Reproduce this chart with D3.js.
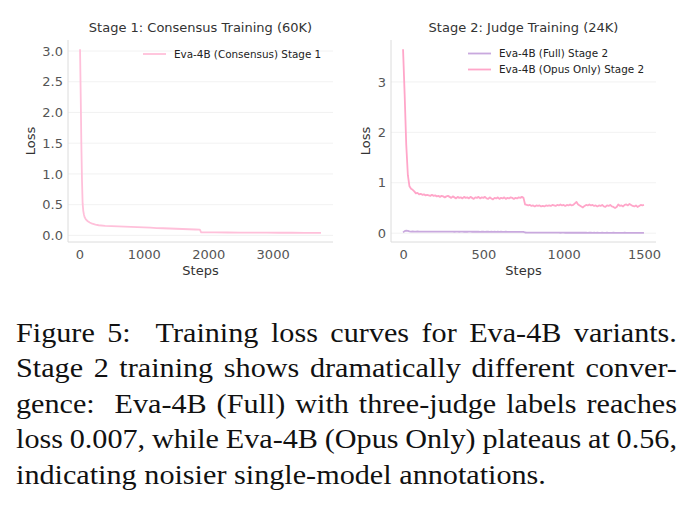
<!DOCTYPE html>
<html><head><meta charset="utf-8">
<script src="https://cdn.jsdelivr.net/npm/d3@7"></script>
<style>body{margin:0;background:#fff} svg{display:block}</style>
</head><body>
<svg id="c" width="691" height="508"></svg>
<script>
// ---------- data ----------
const stage1Steps = [10,20,30,40,50,60,70,80,100,130,160,200,250,300,400,500,600,700,800,900,1000,1100,1200,1300,1400,1500,1600,1700,1800,1870,1890,1950,2100,2300,2500,2700,2900,3100,3300,3500,3750];
const stage1Loss = [3.03,2.3,1.5,0.9,0.52,0.4,0.34,0.3,0.26,0.23,0.21,0.19,0.175,0.165,0.155,0.15,0.147,0.142,0.138,0.135,0.13,0.125,0.12,0.116,0.112,0.108,0.104,0.1,0.096,0.093,0.05,0.049,0.048,0.047,0.046,0.045,0.044,0.043,0.043,0.042,0.042];

const stage2LogEvery = 10;
const stage2Steps = d3.range(0, 1501, stage2LogEvery);
const opusLoss = [
 3.65,2.75,1.75,1.15,0.93,0.88,0.86,0.83,0.79,0.80,
 0.77,0.78,0.76,0.77,0.75,0.76,0.75,0.74,0.76,0.74,
 0.75,0.73,0.74,0.72,0.74,0.73,0.71,0.73,0.74,0.72,
 0.70,0.73,0.71,0.69,0.72,0.70,0.71,0.69,0.72,0.70,
 0.71,0.69,0.72,0.70,0.68,0.71,0.70,0.72,0.69,0.71,
 0.70,0.72,0.69,0.68,0.71,0.69,0.67,0.70,0.69,0.71,
 0.68,0.70,0.69,0.71,0.68,0.70,0.69,0.71,0.70,0.68,
 0.70,0.69,0.71,0.70,0.72,0.70,
 0.57,0.56,0.55,0.56,0.54,0.55,0.53,0.55,0.54,0.55,
 0.53,0.54,0.53,0.55,0.54,0.55,0.54,0.56,0.55,0.54,
 0.56,0.55,0.57,0.55,0.56,0.54,0.56,0.55,0.57,0.55,
 0.56,0.59,0.62,0.57,0.55,0.53,0.51,0.54,0.56,0.55,
 0.57,0.55,0.56,0.54,0.55,0.53,0.55,0.54,0.56,0.53,
 0.52,0.55,0.54,0.56,0.53,0.52,0.50,0.52,0.57,0.54,
 0.55,0.53,0.56,0.57,0.55,0.58,0.56,0.54,0.53,0.55,
 0.52,0.54,0.56,0.55,0.56];
const fullLoss = [
 0.015,0.04,0.05,0.045,0.035,0.03,0.035,0.032,0.03,0.033,
 0.031,0.030,0.032,0.029,0.030,0.031,0.029,0.030,0.031,0.030,
 0.029,0.030,0.031,0.029,0.030,0.029,0.030,0.031,0.029,0.030,
 0.029,0.030,0.028,0.029,0.030,0.028,0.029,0.030,0.028,0.029,
 0.028,0.029,0.030,0.028,0.029,0.028,0.029,0.028,0.027,0.029,
 0.028,0.027,0.028,0.029,0.027,0.028,0.027,0.028,0.027,0.028,
 0.027,0.028,0.026,0.027,0.028,0.026,0.027,0.026,0.027,0.026,
 0.027,0.026,0.027,0.026,0.025,0.024,
 0.013,0.012,0.011,0.011,0.010,0.011,0.010,0.010,0.011,0.010,
 0.010,0.009,0.010,0.010,0.009,0.010,0.009,0.009,0.010,0.009,
 0.009,0.009,0.008,0.009,0.009,0.008,0.009,0.008,0.009,0.008,
 0.008,0.009,0.008,0.008,0.008,0.009,0.008,0.008,0.008,0.007,
 0.008,0.008,0.007,0.008,0.007,0.008,0.007,0.007,0.008,0.007,
 0.007,0.008,0.007,0.007,0.007,0.008,0.007,0.007,0.007,0.007,
 0.007,0.007,0.008,0.007,0.007,0.007,0.007,0.007,0.007,0.007,
 0.007,0.007,0.007,0.007,0.007];

const xTicks1 = [0,1000,2000,3000];
const yTicks1 = [0,0.5,1.0,1.5,2.0,2.5,3.0];
const xTicks2 = [0,500,1000,1500];
const yTicks2 = [0,1,2,3];

const panelTitles = ["Stage 1: Consensus Training (60K)", "Stage 2: Judge Training (24K)"];
const seriesNames = ["Eva-4B (Consensus) Stage 1", "Eva-4B (Full) Stage 2", "Eva-4B (Opus Only) Stage 2"];
const xLabel = "Steps", yLabel = "Loss";
const captionLines = [
 "Figure 5:  Training loss curves for Eva-4B variants.",
 "Stage 2 training shows dramatically different conver-",
 "gence:  Eva-4B (Full) with three-judge labels reaches",
 "loss 0.007, while Eva-4B (Opus Only) plateaus at 0.56,",
 "indicating noisier single-model annotations."
];

// ---------- drawing ----------
const svg = d3.select("#c");
const FONT = "DejaVu Sans, sans-serif";
const SERIF = "'Liberation Serif', 'Times New Roman', Times, serif";

function margined(ext){ const r = ext[1]-ext[0]; return [ext[0]-0.05*r, ext[1]+0.05*r]; }

function panel(opt){
  const {left, top, width, height} = opt;
  const allX = opt.series.flatMap(s=>s.x), allY = opt.series.flatMap(s=>s.y);
  const x = d3.scaleLinear().domain(margined(d3.extent(allX))).range([left, left+width]);
  const y = d3.scaleLinear().domain(margined(d3.extent(allY))).range([top+height, top]);
  const g = svg.append("g");
  g.append("g").selectAll("line").data(opt.yTicks).join("line")
    .attr("x1", left).attr("x2", left+width)
    .attr("y1", d=>y(d)).attr("y2", d=>y(d))
    .attr("stroke", "#efefef").attr("stroke-width", 0.8);
  g.append("line").attr("x1", left).attr("x2", left).attr("y1", top).attr("y2", top+height)
    .attr("stroke", "#dcdcdc").attr("stroke-width", 1);
  g.append("line").attr("x1", left).attr("x2", left+width).attr("y1", top+height).attr("y2", top+height)
    .attr("stroke", "#dcdcdc").attr("stroke-width", 1);
  const xa = g.append("g").attr("transform", `translate(0,${top+height})`)
    .call(d3.axisBottom(x).tickValues(opt.xTicks).tickSize(0).tickPadding(8).tickFormat(d3.format("d")));
  const ya = g.append("g").attr("transform", `translate(${left},0)`)
    .call(d3.axisLeft(y).tickValues(opt.yTicks).tickSize(0).tickPadding(5).tickFormat(opt.yFormat));
  [xa, ya].forEach(a=>{
    a.select(".domain").remove();
    a.selectAll("text").attr("font-family", FONT).attr("font-size", 13).attr("fill", "#555");
  });
  opt.series.forEach(s=>{
    const pts = s.x.map((v,i)=>[v, s.y[i]]);
    g.append("path").datum(pts)
      .attr("d", d3.line().x(d=>x(d[0])).y(d=>y(d[1])))
      .attr("fill", "none").attr("stroke", s.color).attr("stroke-width", 1.8)
      .attr("stroke-linejoin", "round");
  });
  g.append("text").attr("x", left+width/2).attr("y", 32).attr("text-anchor", "middle")
    .attr("font-family", FONT).attr("font-size", 13).attr("fill", "#333").text(opt.title);
  g.append("text").attr("x", left+width/2).attr("y", 275).attr("text-anchor", "middle")
    .attr("font-family", FONT).attr("font-size", 13).attr("fill", "#333").text(xLabel);
  g.append("text").attr("transform", `translate(${opt.ylabelX},${top+height/2}) rotate(-90)`)
    .attr("text-anchor", "middle").attr("font-family", FONT).attr("font-size", 13).attr("fill", "#333").text(yLabel);
  opt.series.forEach((s,i)=>{
    const ly = opt.legendY + i*16;
    g.append("line").attr("x1", opt.legendX).attr("x2", opt.legendX+23).attr("y1", ly).attr("y2", ly)
      .attr("stroke", s.color).attr("stroke-width", 1.8);
    g.append("text").attr("x", opt.legendX+31).attr("y", ly).attr("dy", "0.35em")
      .attr("font-family", FONT).attr("font-size", 10.4).attr("fill", "#222").text(s.name);
  });
}

panel({left:68, top:40, width:265, height:202, title: panelTitles[0],
  xTicks: xTicks1, yTicks: yTicks1, yFormat: d3.format(".1f"), ylabelX: 35,
  legendX: 143, legendY: 54,
  series: [{x: stage1Steps, y: stage1Loss, color: "#ffc0da", name: seriesNames[0]}]});

panel({left:391, top:40, width:265, height:202, title: panelTitles[1],
  xTicks: xTicks2, yTicks: yTicks2, yFormat: d3.format("d"), ylabelX: 370,
  legendX: 468, legendY: 53.5,
  series: [{x: stage2Steps, y: fullLoss, color: "#c9a9de", name: seriesNames[1]},
           {x: stage2Steps, y: opusLoss, color: "#ffa6c9", name: seriesNames[2]}]});

// ---------- caption ----------
const capFS = 27, capLeft = 16, capRight = 677, lastLineWidth = 530;
const baselines = [341.7, 377.3, 412.7, 448.3, 483.6];
const cap = svg.append("g");
function mk(parent, w){ return parent.append("text").style("font-family", SERIF).attr("font-size", capFS).text(w); }
function measure(words){
  const t = cap.append("g");
  const ws = words.map(w=> w ? mk(t,w).node().getComputedTextLength() : 0);
  const sp = mk(t,"a a").node().getComputedTextLength() - mk(t,"aa").node().getComputedTextLength();
  t.remove();
  return {ws, sp};
}
const lastWords = captionLines[4].split(" ");
const lm = measure(lastWords);
const natLast = d3.sum(lm.ws) + lm.sp*(lastWords.length-1);
const hx = lastLineWidth / natLast;
captionLines.forEach((line, li)=>{
  const words = line.split(" ");
  const m = measure(words);
  const last = li === captionLines.length-1;
  const avail = (capRight-capLeft)/hx;
  const gap = last ? m.sp : (avail - d3.sum(m.ws))/(words.length-1);
  const lg = cap.append("g").attr("transform", `translate(${capLeft},${baselines[li]}) scale(${hx},1)`);
  let xx = 0;
  words.forEach((w,i)=>{
    if (w) mk(lg, w).attr("x", xx).attr("y", 0).attr("fill", "#111");
    xx += m.ws[i] + gap;
  });
});
</script>
</body></html>
